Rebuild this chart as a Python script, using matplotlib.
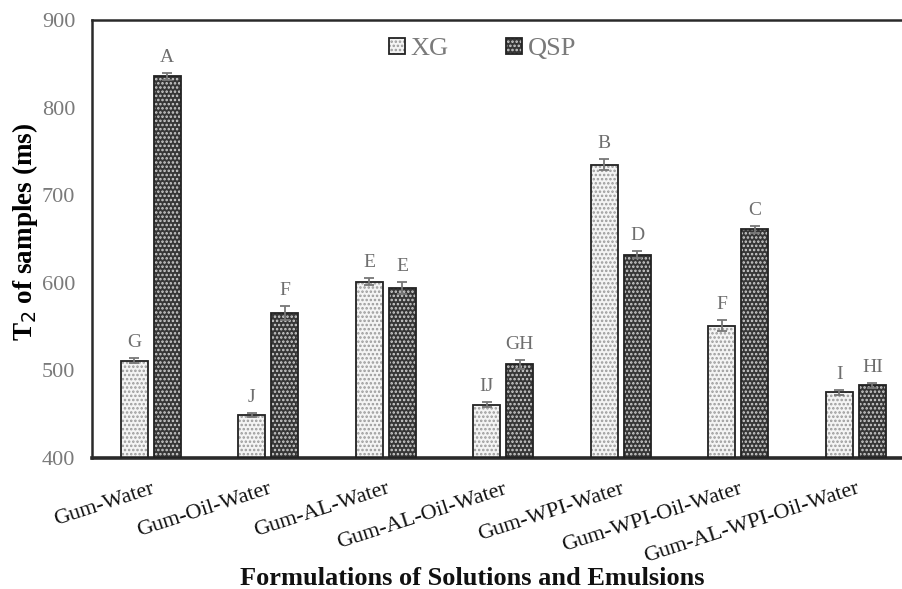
import matplotlib
matplotlib.use("Agg")
import matplotlib.pyplot as plt
from matplotlib.patches import Patch
from matplotlib.legend_handler import HandlerTuple
import numpy as np

plt.rcParams['font.family'] = ['Liberation Serif', 'DejaVu Serif']
plt.rcParams['hatch.linewidth'] = 1.2

# T2 relaxation data per formulation
formulations = ['Gum-Water', 'Gum-Oil-Water', 'Gum-AL-Water', 'Gum-AL-Oil-Water',
                'Gum-WPI-Water', 'Gum-WPI-Oil-Water', 'Gum-AL-WPI-Oil-Water']
xg_vals = [511, 449, 601, 461, 735, 551, 475]
xg_err = [3, 2, 4, 3, 6, 6, 3]
qsp_vals = [836, 565, 594, 507, 632, 661, 483]
qsp_err = [4, 8, 7, 5, 4, 4, 3]
xg_letters = ['G', 'J', 'E', 'IJ', 'B', 'F', 'I']
qsp_letters = ['A', 'F', 'E', 'GH', 'D', 'C', 'HI']

XG_FACE, XG_DOTS = '#f4f4f4', '#9a9a9a'
QSP_FACE, QSP_DOTS = '#363636', '#d0d0d0'
OUTLINE = '#222222'

fig = plt.figure(figsize=(9.03, 5.89), dpi=100)
# plot area runs past the right edge of the canvas
ax = fig.add_axes([0.1019, 0.2224, 0.911, 0.7436])

x = np.arange(len(formulations))
w = 0.23
off = 0.14

def pattern_bars(xpos, vals, face, dots):
    # dotted fill first, then the outline on top
    ax.bar(xpos, np.array(vals) - 400, w, bottom=400, color=face,
           hatch='....', edgecolor=dots, linewidth=0, zorder=2)
    ax.bar(xpos, np.array(vals) - 400, w, bottom=400, fill=False,
           edgecolor=OUTLINE, linewidth=1.3, zorder=3)

pattern_bars(x - off, xg_vals, XG_FACE, XG_DOTS)
pattern_bars(x + off, qsp_vals, QSP_FACE, QSP_DOTS)

ax.errorbar(x - off, xg_vals, yerr=xg_err, fmt='none', ecolor='#777777',
            elinewidth=1.3, capsize=3.5, capthick=1.3, zorder=4)
ax.errorbar(x + off, qsp_vals, yerr=qsp_err, fmt='none', ecolor='#777777',
            elinewidth=1.3, capsize=3.5, capthick=1.3, zorder=4)

for xi, v, e, t in zip(x - off, xg_vals, xg_err, xg_letters):
    ax.text(xi, v + e + 8, t, ha='center', va='bottom', fontsize=14, color='#6e6e6e')
for xi, v, e, t in zip(x + off, qsp_vals, qsp_err, qsp_letters):
    ax.text(xi, v + e + 8, t, ha='center', va='bottom', fontsize=14, color='#6e6e6e')

ax.set_xlim(-0.5, len(formulations) - 0.5)
ax.set_ylim(400, 900)
ax.set_yticks([400, 500, 600, 700, 800, 900])
ax.set_xticks(x)
ax.set_xticklabels(formulations, rotation=18, ha='right', va='top',
                   rotation_mode='anchor', fontsize=16, color='#111111')
ax.tick_params(axis='y', labelsize=16, labelcolor='#7a7a7a', length=0, pad=12)
ax.tick_params(axis='x', length=0, pad=15.5)
for s in ax.spines.values():
    s.set_color('#2a2a2a')
    s.set_linewidth(1.8)
ax.spines['bottom'].set_linewidth(2.6)
ax.spines['right'].set_visible(False)

ax.set_ylabel(r'T$_2$ of samples (ms)', fontsize=19.5, fontweight='bold')
ax.yaxis.set_label_coords(-0.063, 0.516)
fig.text(472 / 903, 1 - 585 / 589, 'Formulations of Solutions and Emulsions',
         ha='center', va='baseline', fontsize=19, fontweight='bold', color='#111111')

# legend keys with the same dotted fill and outline
keys = []
for face, dots in [(XG_FACE, XG_DOTS), (QSP_FACE, QSP_DOTS)]:
    keys.append((Patch(facecolor=face, edgecolor=dots, hatch='....', linewidth=0),
                 Patch(fill=False, edgecolor=OUTLINE, linewidth=1.3)))
leg = fig.legend(keys, ['XG', 'QSP'], loc='center left',
                 bbox_to_anchor=(389 / 903, 1 - 49 / 589), ncol=2, frameon=False,
                 fontsize=19, handlelength=0.6, handleheight=0.6, handletextpad=0.2,
                 columnspacing=2.2, borderpad=0, borderaxespad=0,
                 handler_map={tuple: HandlerTuple(ndivide=1, pad=0)})
for t in leg.get_texts():
    t.set_color('#7a7a7a')

fig.savefig('out.png', dpi=100)
